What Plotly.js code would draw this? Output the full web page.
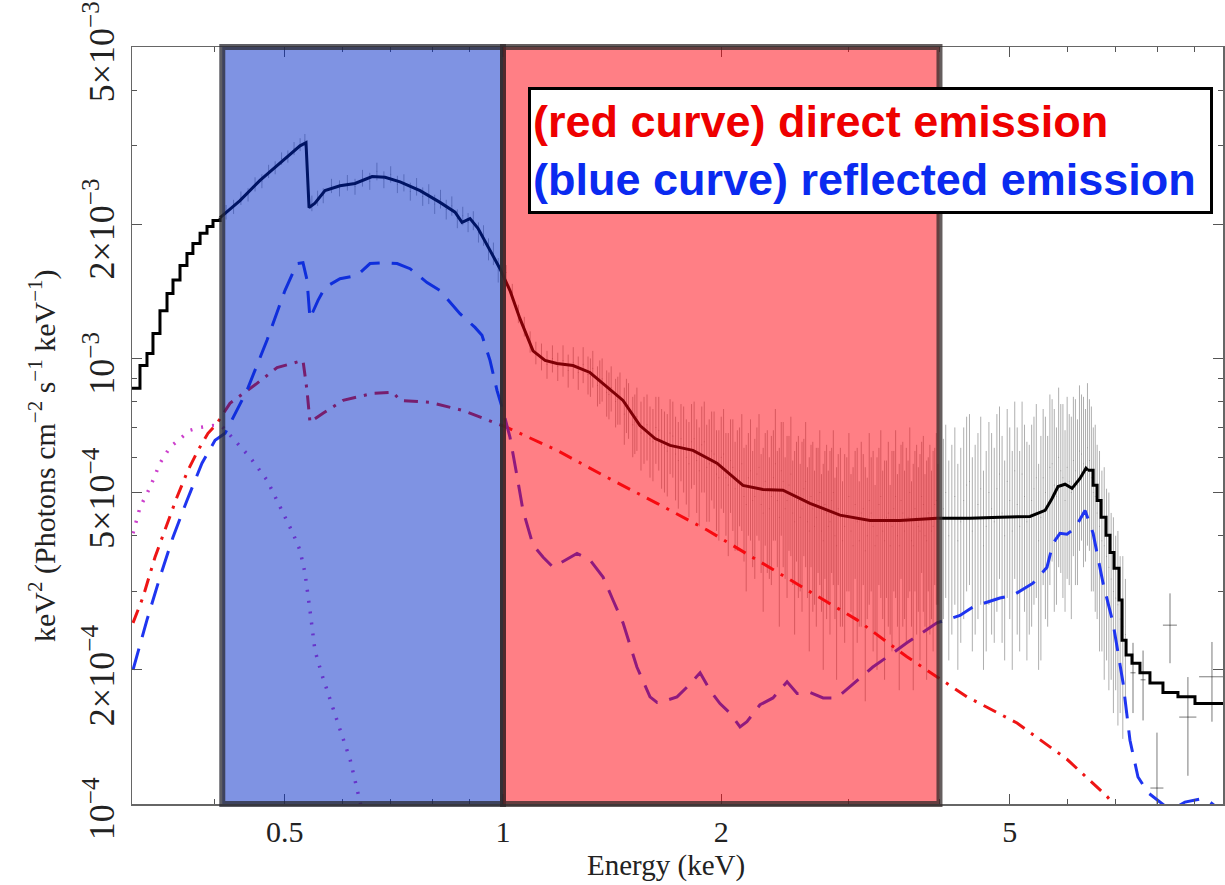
<!DOCTYPE html>
<html><head><meta charset="utf-8">
<script src="https://cdn.plot.ly/plotly-3.0.1.min.js"></script>
<style>html,body{margin:0;padding:0;background:#fff}</style>
</head><body><div id="chart" style="width:1225px;height:885px"></div>
<script>
// Energy in keV, flux in keV^2 (Photons cm^-2 s^-1 keV^-1)
const bandEdges = [0.41, 1.0, 4.0];

// total model (black), split where it is drawn as coarse bins / smooth curve
const modelLowE = [0.3078,0.3157,0.3228,0.3290,0.3364,0.3440,0.3506,0.3585,0.3665,0.3735,0.3821,0.3906,0.3981,0.4072];
const modelLowY = [8.57e-4,9.64e-4,1.026e-3,1.138e-3,1.28e-3,1.398e-3,1.50e-3,1.616e-3,1.72e-3,1.81e-3,1.91e-3,1.977e-3,2.04e-3,2.07e-3];
const modelMidE = [0.4072,0.4337,0.4622,0.4925,0.5248,0.5349,0.5401,0.5503,0.5682,0.5959,0.6250,0.6599,0.6875,0.7212,0.7684,0.8187,0.8587,0.8779,0.9006,0.9236,0.9596,0.9905,1.0225,1.055,1.100,1.143,1.187,1.249,1.318,1.383,1.464,1.545,1.621,1.700,1.828,1.973,2.143,2.284,2.433,2.651,2.916,3.208,3.528,3.968,4.407,4.847,5.333,5.594,5.719,5.829,5.960,6.094,6.250,6.370,6.411];
const modelMidY = [2.07e-3,2.26e-3,2.51e-3,2.75e-3,3.00e-3,3.05e-3,2.18e-3,2.23e-3,2.38e-3,2.44e-3,2.47e-3,2.56e-3,2.55e-3,2.49e-3,2.38e-3,2.24e-3,2.13e-3,2.02e-3,2.06e-3,1.96e-3,1.75e-3,1.59e-3,1.42e-3,1.23e-3,1.04e-3,9.90e-4,9.74e-4,9.64e-4,9.30e-4,8.70e-4,8.05e-4,7.07e-4,6.61e-4,6.38e-4,6.22e-4,5.82e-4,5.19e-4,5.08e-4,5.06e-4,4.73e-4,4.45e-4,4.33e-4,4.33e-4,4.38e-4,4.38e-4,4.40e-4,4.42e-4,4.56e-4,4.85e-4,5.16e-4,5.22e-4,5.11e-4,5.38e-4,5.67e-4,5.61e-4];
const modelHighE = [6.411,6.516,6.599,6.683,6.789,6.875,6.963,7.075,7.143,7.235,7.372,7.561,7.805,8.134,8.531,9.005,9.843];
const modelHighY = [5.61e-4,5.19e-4,4.80e-4,4.40e-4,4.01e-4,3.67e-4,3.38e-4,2.87e-4,2.33e-4,2.16e-4,2.07e-4,1.97e-4,1.87e-4,1.78e-4,1.74e-4,1.68e-4,1.68e-4];

// reflected emission (blue dashed)
const reflE = [0.3088,0.3228,0.3364,0.3506,0.3665,0.3844,0.4007,0.4137,0.4435,0.4727,0.5003,0.5198,0.5298,0.5366,0.5417,0.5557,0.5682,0.5959,0.6289,0.6555,0.6875,0.7144,0.7444,0.7857,0.8187,0.8723,0.9149,0.9354,0.9596,0.9811,1.0,1.0225,1.045,1.0656,1.100,1.136,1.172,1.218,1.265,1.318,1.374,1.418,1.464,1.530,1.595,1.631,1.684,1.738,1.794,1.870,1.930,1.992,2.056,2.123,2.170,2.262,2.357,2.465,2.545,2.651,2.764,2.888,3.010,3.237,3.419,3.607,3.968,4.269,4.449,4.847,5.051,5.383,5.628,5.737,5.865,5.997,6.152,6.351,6.516,6.725,6.941,7.166,7.325,7.514,7.757,7.981,8.186,8.453,8.722,9.149,9.446,9.75];
const reflY = [2.0e-4,2.59e-4,3.23e-4,3.97e-4,4.80e-4,5.82e-4,6.55e-4,6.79e-4,8.48e-4,1.10e-3,1.42e-3,1.633e-3,1.64e-3,1.50e-3,1.23e-3,1.35e-3,1.443e-3,1.51e-3,1.535e-3,1.633e-3,1.64e-3,1.633e-3,1.59e-3,1.48e-3,1.42e-3,1.26e-3,1.174e-3,1.127e-3,9.90e-4,8.48e-4,7.64e-4,6.65e-4,5.47e-4,4.56e-4,3.81e-4,3.58e-4,3.40e-4,3.53e-4,3.65e-4,3.53e-4,3.23e-4,2.87e-4,2.55e-4,2.03e-4,1.74e-4,1.69e-4,1.71e-4,1.74e-4,1.83e-4,1.97e-4,1.80e-4,1.68e-4,1.60e-4,1.49e-4,1.53e-4,1.67e-4,1.73e-4,1.88e-4,1.77e-4,1.78e-4,1.73e-4,1.73e-4,1.83e-4,2.03e-4,2.16e-4,2.30e-4,2.55e-4,2.65e-4,2.77e-4,2.90e-4,2.94e-4,3.13e-4,3.40e-4,3.85e-4,4.05e-4,4.03e-4,4.16e-4,4.56e-4,4.05e-4,3.13e-4,2.55e-4,1.87e-4,1.39e-4,1.15e-4,1.06e-4,1.02e-4,0.99e-4,0.98e-4,1.01e-4,1.026e-4,1.01e-4,0.97e-4];

// direct emission (red dash-dot)
const dirE = [0.3088,0.3187,0.3311,0.3420,0.3550,0.3677,0.3796,0.3918,0.4032,0.4201,0.4578,0.4879,0.5298,0.5366,0.5417,0.5646,0.6017,0.6616,0.7052,0.7212,0.7931,0.8807,0.9811,1.013,1.187,1.391,1.631,1.912,2.240,2.627,3.078,3.607,3.968,4.365,5.117,5.997,6.810,6.986];
const dirY = [2.55e-4,2.91e-4,3.58e-4,4.12e-4,4.88e-4,5.61e-4,6.22e-4,6.79e-4,7.15e-4,7.93e-4,8.79e-4,9.54e-4,9.90e-4,8.48e-4,7.19e-4,7.53e-4,8.05e-4,8.35e-4,8.39e-4,8.05e-4,7.97e-4,7.64e-4,7.15e-4,7.00e-4,6.22e-4,5.41e-4,4.73e-4,4.12e-4,3.53e-4,3.02e-4,2.59e-4,2.14e-4,1.93e-4,1.74e-4,1.52e-4,1.26e-4,1.04e-4,0.99e-4];

// soft component (magenta dotted)
const softE = [0.3088,0.3157,0.3260,0.3364,0.3473,0.3585,0.3701,0.3821,0.3981,0.4097,0.4296,0.4477,0.4727,0.4925,0.5132,0.5248,0.5332,0.5417,0.5503,0.5627,0.5773,0.5959,0.6152,0.6289,0.6389];
const softY = [4.05e-4,4.63e-4,5.14e-4,5.82e-4,6.32e-4,6.61e-4,6.90e-4,7.00e-4,7.07e-4,7.04e-4,6.45e-4,6.00e-4,5.33e-4,4.63e-4,4.05e-4,3.71e-4,3.30e-4,2.72e-4,2.21e-4,1.95e-4,1.71e-4,1.47e-4,1.26e-4,1.07e-4,0.97e-4];

// observed spectrum, first group of bins (grey error bars)
const obsE = [0.415,0.425,0.435,0.445,0.455,0.465,0.475,0.485,0.495,0.505,0.515,0.525,0.533,0.545,0.555,0.565,0.58,0.595,0.61,0.625,0.64,0.655,0.67,0.685,0.70,0.715,0.73,0.745,0.76,0.775,0.79,0.805,0.82,0.835,0.85,0.865,0.88,0.895,0.91,0.925,0.94,0.955,0.97,0.985,
1.01,1.03,1.05,1.07,1.09,1.11,1.13,1.15,1.17,1.19,1.21,1.23,1.25,1.27,1.29,1.31,1.33,1.35,1.37,1.39,1.41,1.43,1.45,1.47,1.49,1.51,1.53,1.55,1.58,1.61,1.64,1.67,1.70,1.73,1.76,1.79,1.82,1.85,1.88,1.91,1.94,1.97,2.00,2.03,2.06,2.09,2.12,2.15,2.18,2.21,2.24,2.27,2.30,2.33,2.36,2.39,2.42,2.45,2.48,2.51,2.54,2.57,2.60,2.63,2.66,2.69,2.72,2.75,2.78,2.81,2.84,2.87,2.90,2.94,2.98,3.02,3.06,3.10,3.14,3.18,3.22,3.26,3.30,3.34,3.38,3.42,3.46,3.50,3.54,3.58,3.62,3.66,3.70,3.74,3.78,3.82,3.86,3.90,3.94,3.98,
4.05,4.12,4.20,4.28,4.36,4.44,4.52,4.60,4.68,4.76,4.84,4.92,5.00,5.08,5.16,5.24,5.32,5.40,5.48,5.56,5.64,5.72,5.80,5.88,5.96,6.04,6.12,6.20,6.28,6.36,6.44,6.52,6.60,6.70,6.80,6.90,7.00,7.10,7.22];
const obsY = [21.3e-4,21.9e-4,22.9e-4,23.3e-4,24.6e-4,25.0e-4,26.3e-4,26.8e-4,28.1e-4,28.4e-4,29.6e-4,30.2e-4,30.9e-4,22.3e-4,22.9e-4,23.2e-4,24.4e-4,24.1e-4,24.8e-4,24.3e-4,25.4e-4,25.0e-4,26.3e-4,25.2e-4,25.9e-4,24.6e-4,24.8e-4,23.7e-4,24.3e-4,23.1e-4,23.4e-4,22.2e-4,22.8e-4,21.6e-4,22.0e-4,20.6e-4,20.9e-4,20.2e-4,20.4e-4,19.2e-4,18.9e-4,17.6e-4,17.2e-4,15.8e-4,
15.6e-4,14.1e-4,12.6e-4,11.8e-4,10.9e-4,10.3e-4,10.1e-4,9.7e-4,10.0e-4,9.6e-4,9.9e-4,9.4e-4,9.8e-4,9.3e-4,9.7e-4,9.2e-4,9.5e-4,8.7e-4,9.0e-4,8.4e-4,8.6e-4,8.0e-4,8.2e-4,7.5e-4,7.7e-4,7.1e-4,7.4e-4,6.8e-4,7.1e-4,6.5e-4,6.9e-4,6.3e-4,6.8e-4,6.1e-4,6.6e-4,6.0e-4,6.5e-4,5.9e-4,6.4e-4,5.7e-4,6.2e-4,5.5e-4,6.0e-4,5.4e-4,5.9e-4,5.1e-4,5.6e-4,4.9e-4,5.4e-4,4.8e-4,5.5e-4,4.7e-4,5.3e-4,4.6e-4,5.4e-4,4.8e-4,5.6e-4,4.6e-4,5.2e-4,4.5e-4,5.0e-4,4.4e-4,5.1e-4,4.3e-4,4.9e-4,4.2e-4,4.8e-4,4.1e-4,4.7e-4,4.2e-4,4.8e-4,4.0e-4,4.6e-4,3.9e-4,4.5e-4,4.1e-4,4.7e-4,3.9e-4,4.6e-4,4.0e-4,4.5e-4,3.8e-4,4.7e-4,4.1e-4,4.4e-4,3.8e-4,4.6e-4,4.0e-4,4.8e-4,4.1e-4,4.4e-4,3.9e-4,4.6e-4,4.2e-4,4.9e-4,4.0e-4,4.5e-4,4.1e-4,4.7e-4,4.3e-4,
4.6e-4,4.0e-4,4.9e-4,4.3e-4,5.2e-4,4.1e-4,4.7e-4,3.8e-4,5.0e-4,4.3e-4,5.5e-4,4.0e-4,4.8e-4,5.6e-4,4.2e-4,4.9e-4,4.4e-4,5.1e-4,3.9e-4,5.4e-4,4.6e-4,5.8e-4,4.9e-4,5.6e-4,4.8e-4,5.3e-4,5.9e-4,5.2e-4,6.1e-4,5.6e-4,5.9e-4,5.0e-4,4.5e-4,3.9e-4,3.6e-4,3.2e-4,2.9e-4,2.6e-4,2.4e-4];
const obsErr = [0.8e-4,0.8e-4,0.8e-4,0.8e-4,0.9e-4,0.9e-4,0.9e-4,0.9e-4,0.9e-4,0.9e-4,1.0e-4,1.0e-4,1.0e-4,0.9e-4,0.9e-4,0.9e-4,0.9e-4,1.0e-4,1.0e-4,1.0e-4,1.1e-4,1.1e-4,1.2e-4,1.1e-4,1.1e-4,1.1e-4,1.1e-4,1.1e-4,1.1e-4,1.1e-4,1.2e-4,1.1e-4,1.1e-4,1.1e-4,1.1e-4,1.0e-4,1.0e-4,1.0e-4,1.0e-4,1.0e-4,1.0e-4,1.0e-4,1.0e-4,1.0e-4,
0.6e-4,0.6e-4,0.6e-4,0.6e-4,0.6e-4,0.6e-4,0.7e-4,0.7e-4,0.7e-4,0.7e-4,0.8e-4,0.8e-4,0.8e-4,0.8e-4,0.9e-4,0.9e-4,0.9e-4,0.9e-4,1.0e-4,1.0e-4,1.0e-4,1.0e-4,1.1e-4,1.1e-4,1.1e-4,1.1e-4,1.2e-4,1.2e-4,1.2e-4,1.2e-4,1.3e-4,1.3e-4,1.3e-4,1.3e-4,1.3e-4,1.3e-4,1.4e-4,1.4e-4,1.4e-4,1.4e-4,1.4e-4,1.4e-4,1.4e-4,1.4e-4,1.4e-4,1.4e-4,1.4e-4,1.4e-4,1.4e-4,1.4e-4,1.5e-4,1.4e-4,1.5e-4,1.4e-4,1.5e-4,1.4e-4,1.6e-4,1.4e-4,1.5e-4,1.4e-4,1.5e-4,1.4e-4,1.5e-4,1.4e-4,1.5e-4,1.4e-4,1.5e-4,1.4e-4,1.5e-4,1.4e-4,1.5e-4,1.4e-4,1.5e-4,1.4e-4,1.5e-4,1.4e-4,1.5e-4,1.4e-4,1.5e-4,1.4e-4,1.5e-4,1.4e-4,1.6e-4,1.5e-4,1.5e-4,1.4e-4,1.6e-4,1.5e-4,1.6e-4,1.5e-4,1.5e-4,1.4e-4,1.6e-4,1.5e-4,1.6e-4,1.5e-4,1.5e-4,1.5e-4,1.6e-4,1.5e-4,
2.0e-4,1.9e-4,2.1e-4,2.0e-4,2.2e-4,1.9e-4,2.1e-4,1.8e-4,2.2e-4,2.0e-4,2.3e-4,1.9e-4,2.2e-4,2.4e-4,2.0e-4,2.2e-4,2.0e-4,2.3e-4,1.9e-4,2.3e-4,2.1e-4,2.3e-4,2.1e-4,2.3e-4,2.1e-4,2.2e-4,2.3e-4,2.1e-4,2.2e-4,2.1e-4,2.2e-4,2.0e-4,1.9e-4,1.7e-4,1.5e-4,1.3e-4,1.1e-4,1.0e-4,0.8e-4];

// observed spectrum, interleaved bins
const obs2E = [1.32,1.36,1.40,1.44,1.48,1.52,1.565,1.595,1.625,1.655,1.685,1.715,1.745,1.775,1.805,1.835,1.865,1.895,1.925,1.955,1.985,2.015,2.045,2.075,2.105,2.135,2.165,2.195,2.225,2.255,2.285,2.315,2.345,2.375,2.405,2.435,2.465,2.495,2.525,2.555,2.585,2.615,2.645,2.675,2.705,2.735,2.765,2.795,2.825,2.855,2.885,2.92,2.96,3.00,3.04,3.08,3.12,3.16,3.20,3.24,3.28,3.32,3.36,3.40,3.44,3.48,3.52,3.56,3.60,3.64,3.68,3.72,3.76,3.80,3.84,3.88,3.92,3.96,
4.08,4.16,4.24,4.32,4.40,4.48,4.56,4.64,4.72,4.80,4.88,4.96,5.04,5.12,5.20,5.28,5.36,5.44,5.52,5.60,5.68,5.76,5.84,5.92,6.00,6.08,6.16,6.24,6.32,6.40,6.48,6.56,6.65,6.75,6.85,6.95,7.05,7.16];
const obs2Y = [9.1e-4,8.9e-4,8.3e-4,8.1e-4,7.9e-4,7.2e-4,7.0e-4,6.6e-4,7.0e-4,6.4e-4,6.2e-4,6.7e-4,5.9e-4,6.4e-4,5.8e-4,6.6e-4,5.6e-4,6.5e-4,5.8e-4,6.1e-4,5.4e-4,6.1e-4,5.2e-4,5.7e-4,5.3e-4,5.8e-4,4.7e-4,5.6e-4,4.9e-4,5.7e-4,4.5e-4,5.1e-4,4.9e-4,5.8e-4,4.4e-4,5.3e-4,4.8e-4,5.5e-4,4.3e-4,4.8e-4,4.6e-4,5.3e-4,4.1e-4,4.6e-4,4.4e-4,5.0e-4,3.9e-4,4.5e-4,4.3e-4,5.0e-4,3.8e-4,4.4e-4,4.2e-4,4.9e-4,3.8e-4,4.3e-4,4.5e-4,3.7e-4,4.8e-4,4.2e-4,4.0e-4,4.9e-4,3.9e-4,4.5e-4,4.2e-4,4.9e-4,3.8e-4,4.5e-4,4.3e-4,5.0e-4,3.8e-4,4.4e-4,4.1e-4,4.7e-4,3.9e-4,4.4e-4,4.2e-4,4.8e-4,
5.0e-4,4.4e-4,3.9e-4,4.8e-4,5.3e-4,4.4e-4,5.1e-4,4.2e-4,4.6e-4,5.1e-4,4.5e-4,5.3e-4,4.1e-4,4.7e-4,5.5e-4,4.3e-4,4.8e-4,5.4e-4,4.4e-4,5.0e-4,5.7e-4,5.2e-4,6.0e-4,5.4e-4,5.7e-4,5.0e-4,5.6e-4,6.2e-4,5.8e-4,6.3e-4,5.4e-4,4.9e-4,4.2e-4,3.8e-4,3.4e-4,3.0e-4,2.8e-4,2.5e-4];
const obs2Err = [0.9e-4,1.0e-4,1.0e-4,1.0e-4,1.1e-4,1.1e-4,1.2e-4,1.2e-4,1.2e-4,1.3e-4,1.3e-4,1.3e-4,1.3e-4,1.4e-4,1.4e-4,1.4e-4,1.4e-4,1.5e-4,1.5e-4,1.5e-4,1.5e-4,1.6e-4,1.6e-4,1.6e-4,1.6e-4,1.7e-4,1.7e-4,1.7e-4,1.7e-4,1.8e-4,1.8e-4,1.8e-4,1.8e-4,1.9e-4,1.9e-4,1.9e-4,1.9e-4,1.9e-4,1.9e-4,1.9e-4,1.9e-4,1.9e-4,1.9e-4,1.9e-4,1.9e-4,1.9e-4,1.9e-4,1.9e-4,1.9e-4,1.9e-4,1.9e-4,1.9e-4,1.9e-4,1.9e-4,1.9e-4,2.0e-4,2.0e-4,2.0e-4,2.0e-4,2.0e-4,2.0e-4,2.0e-4,2.0e-4,2.0e-4,2.0e-4,2.0e-4,2.0e-4,2.0e-4,2.0e-4,2.0e-4,2.0e-4,2.0e-4,2.0e-4,2.0e-4,2.0e-4,2.0e-4,2.0e-4,2.0e-4,
2.1e-4,2.0e-4,1.9e-4,2.2e-4,2.2e-4,2.0e-4,2.3e-4,2.0e-4,2.2e-4,2.4e-4,2.2e-4,2.4e-4,2.1e-4,2.3e-4,2.5e-4,2.2e-4,2.3e-4,2.5e-4,2.3e-4,2.4e-4,2.6e-4,2.5e-4,2.6e-4,2.5e-4,2.5e-4,2.4e-4,2.5e-4,2.5e-4,2.4e-4,2.5e-4,2.4e-4,2.2e-4,2.0e-4,1.9e-4,1.6e-4,1.4e-4,1.3e-4,1.1e-4];

// sparse high-energy bins
const hiE = [7.396,7.636,7.981,8.318,8.805,9.504];
const hiY = [1.97e-4,1.90e-4,1.086e-4,2.52e-4,1.567e-4,1.93e-4];
const hiUp = [0.33e-4,0.31e-4,0.36e-4,0.45e-4,0.36e-4,0.38e-4];
const hiDn = [0.37e-4,0.36e-4,0.15e-4,0.45e-4,0.41e-4,0.40e-4];
const hiXerr = [0.06,0.06,0.165,0.185,0.24,0.38];

const yTickVals = [1e-4,2e-4,5e-4,1e-3,2e-3,5e-3];
const yTickText = ['10<sup>\u22124</sup>','2\u00d710<sup>\u22124</sup>','5\u00d710<sup>\u22124</sup>','10<sup>\u22123</sup>','2\u00d710<sup>\u22123</sup>','5\u00d710<sup>\u22123</sup>'];
const xTickVals = [0.5,1,2,5];
const xTickText = ['0.5','1','2','5'];
const xMinor = [0.4,0.6,0.7,0.8,0.9,3,4,6,7,8,9];
const yMinor = [3e-4,4e-4,6e-4,7e-4,8e-4,9e-4,3e-3,4e-3];
const xTitle = 'Energy (keV)';
const yTitle = 'keV<sup>2</sup> (Photons cm<sup>\u22122</sup> s<sup>\u22121</sup> keV<sup>\u22121</sup>)';
const boxText = '<b><span style="color:#ee0000">(red curve) direct emission</span><br><span style="color:#0a2af0">(blue curve) reflected emission</span></b>';

const serif = 'Liberation Serif, Times New Roman, serif';
const barGrey = 'rgba(110,110,110,0.55)';

const traces = [
  {x: obsE, y: obsY, mode: 'markers', marker: {size: 1, color: barGrey},
   error_y: {type: 'data', array: obsErr, visible: true, color: barGrey, thickness: 1, width: 0}},
  {x: obs2E, y: obs2Y, mode: 'markers', marker: {size: 1, color: barGrey},
   error_y: {type: 'data', array: obs2Err, visible: true, color: barGrey, thickness: 1, width: 0}},
  {x: hiE, y: hiY, mode: 'markers', marker: {size: 1, color: 'rgba(90,90,90,0.8)'},
   error_y: {type: 'data', symmetric: false, array: hiUp, arrayminus: hiDn, color: 'rgba(90,90,90,0.8)', thickness: 1, width: 0},
   error_x: {type: 'data', array: hiXerr, color: 'rgba(90,90,90,0.8)', thickness: 1, width: 0}},
  {x: softE, y: softY, mode: 'lines', line: {color: '#cc3fcc', width: 3.5, dash: '2px,9px'}},
  {x: dirE, y: dirY, mode: 'lines', line: {color: '#ee1515', width: 3, dash: '14px,8px,3px,8px'}},
  {x: reflE, y: reflY, mode: 'lines', line: {color: '#1f35f0', width: 3, dash: '22px,12px'}},
  {x: modelLowE, y: modelLowY, mode: 'lines', line: {color: '#000', width: 3, shape: 'hv'}},
  {x: modelMidE, y: modelMidY, mode: 'lines', line: {color: '#000', width: 3}},
  {x: modelHighE, y: modelHighY, mode: 'lines', line: {color: '#000', width: 3, shape: 'hv'}}
];

// y tick labels drawn as rotated texts at the tick values
const yLabelAnns = yTickVals.map((v, i) => ({
  xref: 'paper', yref: 'y', x: -0.030, y: Math.log10(v), xanchor: 'center', yanchor: 'middle',
  yshift: -5,
  text: yTickText[i], textangle: -90, showarrow: false,
  font: {family: serif, size: 36, color: '#222'}
}));

const layout = {
  width: 1225, height: 885,
  margin: {l: 132, r: 2, t: 47, b: 81},
  paper_bgcolor: '#fff', plot_bgcolor: '#fff',
  showlegend: false,
  font: {family: serif, size: 28, color: '#222'},
  xaxis: {
    type: 'log', range: [Math.log10(0.3078), Math.log10(9.843)],
    tickmode: 'array', tickvals: xTickVals, ticktext: xTickText,
    ticks: 'inside', ticklen: 10, tickwidth: 1.2, tickcolor: '#555',
    minor: {tickmode: 'array', tickvals: xMinor, ticks: 'inside', ticklen: 5, tickwidth: 1, tickcolor: '#555'},
    showline: true, linecolor: '#666', linewidth: 1.5, mirror: 'ticks',
    showgrid: false, zeroline: false,
    tickfont: {family: serif, size: 30, color: '#222'}
  },
  yaxis: {
    type: 'log', range: [-4, Math.log10(5e-3)],
    tickmode: 'array', tickvals: yTickVals, showticklabels: false,
    ticks: 'inside', ticklen: 10, tickwidth: 1.2, tickcolor: '#555',
    minor: {tickmode: 'array', tickvals: yMinor, ticks: 'inside', ticklen: 5, tickwidth: 1, tickcolor: '#555'},
    showline: true, linecolor: '#666', linewidth: 1.5, mirror: 'ticks',
    showgrid: false, zeroline: false
  },
  shapes: [
    {type: 'rect', xref: 'x', yref: 'paper', x0: bandEdges[0], x1: bandEdges[1], y0: 0, y1: 1,
     fillcolor: 'rgba(0,40,200,0.5)', line: {color: 'rgba(40,40,50,0.75)', width: 6}, layer: 'above'},
    {type: 'rect', xref: 'x', yref: 'paper', x0: bandEdges[1], x1: bandEdges[2], y0: 0, y1: 1,
     fillcolor: 'rgba(255,0,12,0.5)', line: {color: 'rgba(50,40,40,0.75)', width: 6}, layer: 'above'}
  ],
  annotations: yLabelAnns.concat([
    {xref: 'paper', yref: 'paper', x: 0.4895, y: -0.081, xanchor: 'center', yanchor: 'middle',
     text: xTitle, showarrow: false, font: {family: serif, size: 29, color: '#222'}},
    {xref: 'paper', yref: 'paper', x: -0.0825, y: 0.461, xanchor: 'center', yanchor: 'middle',
     text: yTitle, textangle: -90, showarrow: false, font: {family: serif, size: 30, color: '#222'}},
    {xref: 'paper', yref: 'paper', x: 0.363, y: 0.947, xanchor: 'left', yanchor: 'top',
     text: boxText, showarrow: false, align: 'left',
     font: {family: 'Liberation Sans, Arial, sans-serif', size: 45},
     bgcolor: '#fff', bordercolor: '#000', borderwidth: 3, borderpad: 2,
     width: 675, height: 117}
  ])
};

Plotly.newPlot('chart', traces, layout, {displayModeBar: false, staticPlot: true});
</script>
</body></html>
